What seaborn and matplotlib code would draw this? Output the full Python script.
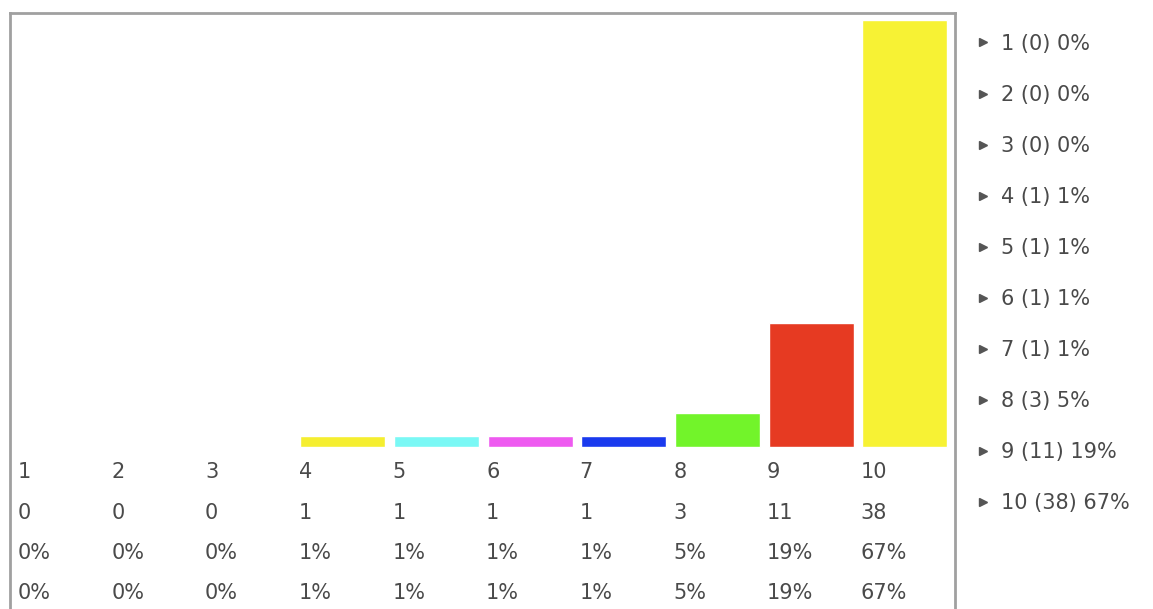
import matplotlib
matplotlib.use("Agg")
import matplotlib.pyplot as plt
from matplotlib.lines import Line2D
import pandas as pd
import seaborn as sns

# --- DATA ---
RATINGS = ["1", "2", "3", "4", "5", "6", "7", "8", "9", "10"]
COUNTS = [0, 0, 0, 1, 1, 1, 1, 3, 11, 38]
PERCENTS = ["0%", "0%", "0%", "1%", "1%", "1%", "1%", "5%", "19%", "67%"]
BAR_COLORS = ["#1A3AEE", "#72F42A", "#E63A22", "#F5EE30", "#7AF8F5",
              "#EE5AF0", "#1A3AEE", "#72F42A", "#E63A22", "#F7F234"]

TEXT_COLOR = "#4a4a4a"
FONT_SIZE = 15

sns.set_theme(style="white")
plt.rcParams['font.family'] = ['DejaVu Sans']

df = pd.DataFrame({"Rating": RATINGS, "Count": COUNTS})

fig = plt.figure(figsize=(11.53, 6.09), dpi=100)
ax = fig.add_axes([10 / 1153, -0.02, 945 / 1153, 596 / 609 + 0.02])

sns.barplot(data=df, x="Rating", y="Count", hue="Rating", palette=BAR_COLORS,
            width=0.907, saturation=1, legend=False, ax=ax)

ax.set_xlim(-0.55, 9.535)
ax.set_ylim(-15.5, 38.6)
ax.set_xticks([])
ax.set_yticks([])
ax.set_xlabel("")
ax.set_ylabel("")

for side in ["top", "left", "right"]:
    ax.spines[side].set_color("#a0a0a0")
    ax.spines[side].set_linewidth(2)
ax.spines["bottom"].set_visible(False)

# table of values under the bars
row_y = [-2.22, -5.87, -9.43, -12.99]
for i, (r, c, p) in enumerate(zip(RATINGS, COUNTS, PERCENTS)):
    for y, txt in zip(row_y, [r, str(c), p, p]):
        ax.text(i - 0.47, y, txt, ha="left", va="center",
                fontsize=FONT_SIZE, color=TEXT_COLOR)

# legend on the right
handles = [Line2D([], [], marker=">", ls="none", color="#555555", markersize=6)
           for _ in RATINGS]
labels = [f"{r} ({c}) {p}" for r, c, p in zip(RATINGS, COUNTS, PERCENTS)]
fig.legend(handles, labels, loc="upper left",
           bbox_to_anchor=(958 / 1153, 1 - 15 / 609), frameon=False,
           handlelength=0.6, handletextpad=0.55, labelspacing=1.49,
           fontsize=FONT_SIZE, labelcolor=TEXT_COLOR)

fig.savefig("out.png", dpi=100)
